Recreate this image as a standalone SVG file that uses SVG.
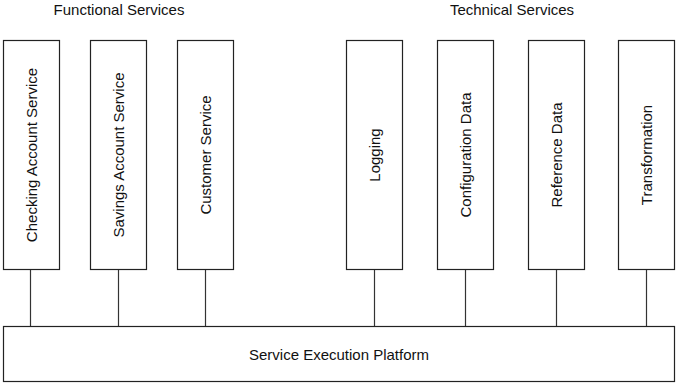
<svg xmlns="http://www.w3.org/2000/svg" width="678" height="385" viewBox="0 0 678 385">
<style>
.box{fill:#fff;stroke:#222;stroke-width:1.2}
.conn line{stroke:#333;stroke-width:1.2}
text{font-family:"Liberation Sans",Arial,sans-serif;font-size:15px;fill:#111}
.v{text-anchor:middle;dominant-baseline:central}
.h{text-anchor:middle}
</style>
<rect width="678" height="385" fill="#fff"/>
<text class="h" x="119" y="15">Functional Services</text>
<text class="h" x="512" y="15">Technical Services</text>
<g class="conn" id="connectors">
<line x1="30.5" y1="269.5" x2="30.5" y2="326.5"/>
<line x1="118.5" y1="269.5" x2="118.5" y2="326.5"/>
<line x1="205.5" y1="269.5" x2="205.5" y2="326.5"/>
<line x1="374.5" y1="269.5" x2="374.5" y2="326.5"/>
<line x1="465.5" y1="269.5" x2="465.5" y2="326.5"/>
<line x1="556.5" y1="269.5" x2="556.5" y2="326.5"/>
<line x1="646.5" y1="269.5" x2="646.5" y2="326.5"/>
</g>
<g id="checking">
<rect class="box" x="3.5" y="40.5" width="56" height="229"/>
<text class="v" transform="translate(31.5,155) rotate(-90)">Checking Account Service</text>
</g>
<g id="savings">
<rect class="box" x="90.5" y="40.5" width="56" height="229"/>
<text class="v" transform="translate(118.5,155) rotate(-90)">Savings Account Service</text>
</g>
<g id="customer">
<rect class="box" x="177.5" y="40.5" width="56" height="229"/>
<text class="v" transform="translate(205.5,155) rotate(-90)">Customer Service</text>
</g>
<g id="logging">
<rect class="box" x="346.5" y="40.5" width="56" height="229"/>
<text class="v" transform="translate(374.5,155) rotate(-90)">Logging</text>
</g>
<g id="config">
<rect class="box" x="437.5" y="40.5" width="56" height="229"/>
<text class="v" transform="translate(465.5,155) rotate(-90)">Configuration Data</text>
</g>
<g id="reference">
<rect class="box" x="528.5" y="40.5" width="56" height="229"/>
<text class="v" transform="translate(556.5,155) rotate(-90)">Reference Data</text>
</g>
<g id="transformation">
<rect class="box" x="618.5" y="40.5" width="56" height="229"/>
<text class="v" transform="translate(646.5,155) rotate(-90)">Transformation</text>
</g>
<g id="platform">
<rect class="box" x="3.5" y="326.5" width="671" height="55"/>
<text class="v" x="339" y="354">Service Execution Platform</text>
</g>
</svg>
